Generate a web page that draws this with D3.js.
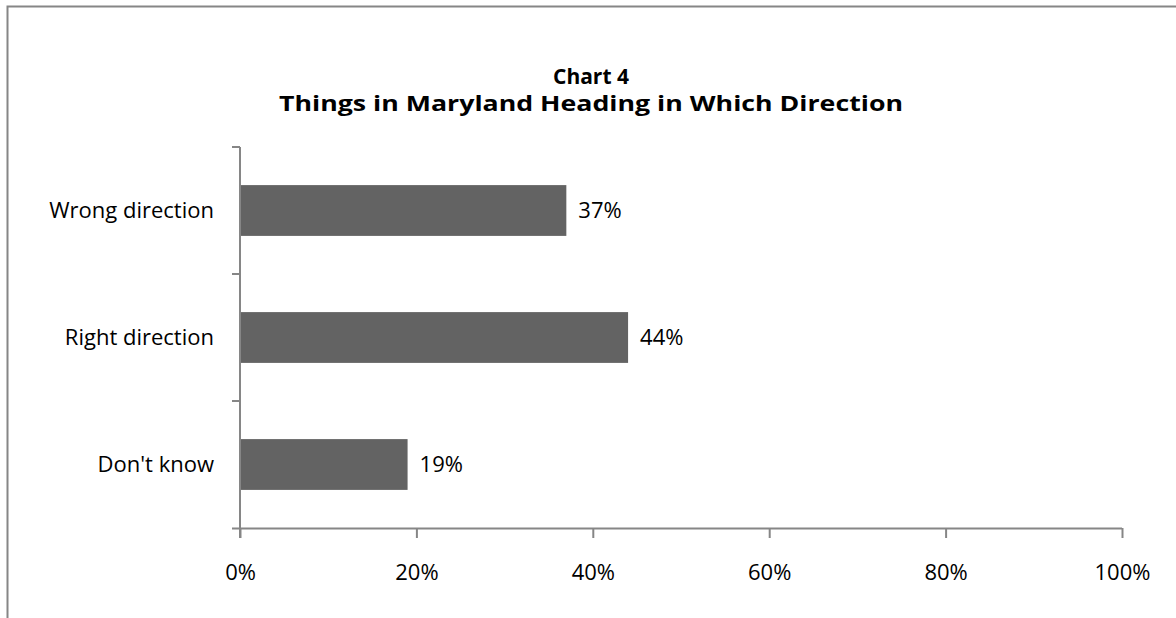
<!DOCTYPE html>
<html>
<head>
<meta charset="utf-8">
<script src="https://cdn.jsdelivr.net/npm/d3@7"></script>
<style>
  html, body { margin: 0; padding: 0; background: #fff; }
  svg { display: block; }
  text { font-family: "Open Sans", "Noto Sans", sans-serif; fill: #000; }
</style>
</head>
<body>
<svg id="chart" width="1176" height="618"></svg>
<script>
// Survey responses (percent)
const categories = ["Wrong direction", "Right direction", "Don't know"];
const values = [37, 44, 19];
const xTicks = [0, 20, 40, 60, 80, 100];
const titleLines = ["Chart 4", "Things in Maryland Heading in Which Direction"];

const svg = d3.select("#chart");
const W = 1176, H = 618;
const axisColor = "#868686";
const fontSize = 22;

// Outer chart frame (top and left edges)
svg.append("path")
  .attr("d", `M7.5,${H} V6.5 H${W}`)
  .attr("fill", "none")
  .attr("stroke", axisColor)
  .attr("stroke-width", 2);

const plot = { left: 240, right: 1122, top: 147, bottom: 528 };

const x = d3.scaleLinear().domain([0, 100]).range([plot.left, plot.right]);
const y = d3.scaleBand().domain(categories).range([plot.top, plot.bottom])
  .paddingInner(0.6).paddingOuter(0.3);

// Two-line title
const title = svg.append("g")
  .attr("text-anchor", "middle")
  .attr("font-weight", "bold")
  .attr("font-size", 21);
title.append("text").attr("x", 591).attr("y", 84).text(titleLines[0]);
title.append("text").attr("x", 591).attr("y", 111).text(titleLines[1])
  .attr("textLength", 624).attr("lengthAdjust", "spacingAndGlyphs");

// Bars
svg.append("g").selectAll("rect")
  .data(categories)
  .join("rect")
  .attr("x", x(0))
  .attr("y", d => y(d))
  .attr("width", (d, i) => x(values[i]) - x(0))
  .attr("height", y.bandwidth())
  .attr("fill", "#636363");

// Value labels
svg.append("g").selectAll("text")
  .data(categories)
  .join("text")
  .attr("x", (d, i) => x(values[i]) + 12)
  .attr("y", d => y(d) + y.bandwidth() / 2)
  .attr("dy", "0.35em")
  .attr("font-size", fontSize)
  .text((d, i) => values[i] + "%");

// X axis
const xAxis = d3.axisBottom(x)
  .tickValues(xTicks)
  .tickFormat(d => d + "%")
  .tickSize(10)
  .tickPadding(26);
const gx = svg.append("g")
  .attr("transform", `translate(0,${plot.bottom})`)
  .call(xAxis);
gx.select(".domain").attr("d", `M${plot.left - 8},0.5H${plot.right}`).attr("stroke", axisColor).attr("stroke-width", 2);
gx.selectAll(".tick line").attr("stroke", axisColor).attr("stroke-width", 2);
gx.selectAll(".tick text").attr("font-size", fontSize).attr("font-family", null).attr("fill", "#000");

// Y axis: category boundary ticks
const bounds = [plot.top, ...categories.map(c => y(c) + y.bandwidth() / 2 + y.step() / 2)];
const gy = svg.append("g");
gy.append("line")
  .attr("x1", plot.left).attr("x2", plot.left)
  .attr("y1", plot.top).attr("y2", plot.bottom + 10)
  .attr("stroke", axisColor).attr("stroke-width", 2);
gy.selectAll("line.tick")
  .data(bounds.slice(0, 3))
  .join("line")
  .attr("class", "tick")
  .attr("x1", plot.left - 8).attr("x2", plot.left)
  .attr("y1", d => d).attr("y2", d => d)
  .attr("stroke", axisColor).attr("stroke-width", 2);

// Category labels
svg.append("g").selectAll("text")
  .data(categories)
  .join("text")
  .attr("x", plot.left - 26)
  .attr("y", d => y(d) + y.bandwidth() / 2)
  .attr("dy", "0.35em")
  .attr("text-anchor", "end")
  .attr("font-size", fontSize)
  .text(d => d);
</script>
</body>
</html>
